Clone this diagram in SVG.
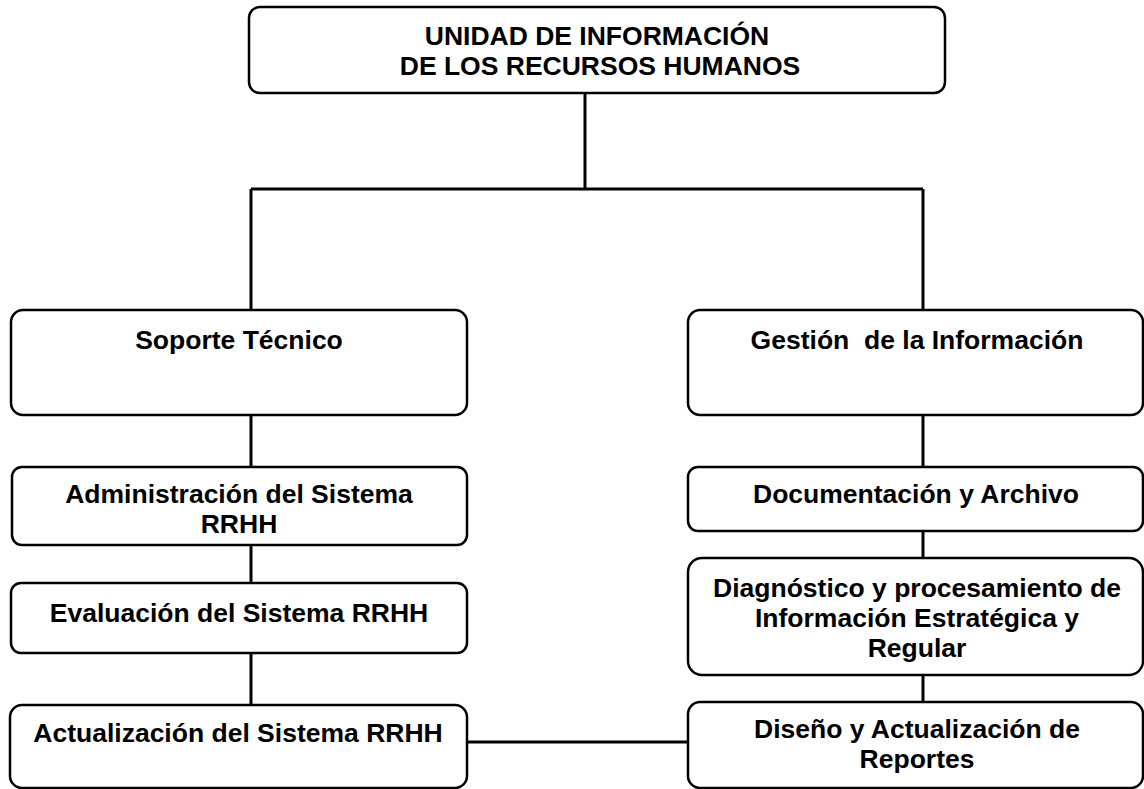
<svg xmlns="http://www.w3.org/2000/svg" width="1144" height="789" viewBox="0 0 1144 789">
<style>
.box{fill:#fff;stroke:#000;stroke-width:2.5}
.ln{fill:none;stroke:#000;stroke-width:3}
text{font-family:"Liberation Sans",Arial,sans-serif;font-weight:bold;font-size:26.5px;fill:#000;text-anchor:middle}
</style>
<rect width="1144" height="789" fill="#fff"/>
<g id="connectors">
<line class="ln" x1="585" y1="93" x2="585" y2="189"/>
<line class="ln" x1="251" y1="189" x2="923" y2="189"/>
<line class="ln" x1="251" y1="189" x2="251" y2="310"/>
<line class="ln" x1="923" y1="189" x2="923" y2="310"/>
<line class="ln" x1="251" y1="415" x2="251" y2="467"/>
<line class="ln" x1="251" y1="545" x2="251" y2="583"/>
<line class="ln" x1="251" y1="653" x2="251" y2="705"/>
<line class="ln" x1="923" y1="415" x2="923" y2="467"/>
<line class="ln" x1="923" y1="531" x2="923" y2="558"/>
<line class="ln" x1="923" y1="675" x2="923" y2="702"/>
<line class="ln" x1="467" y1="742" x2="688" y2="742"/>
</g>
<g id="n-top">
<rect class="box" x="249" y="7" width="696" height="86" rx="11"/>
<text x="597" y="45">UNIDAD DE INFORMACIÓN</text>
<text x="600" y="75">DE LOS RECURSOS HUMANOS</text>
</g>
<g id="n-soporte">
<rect class="box" x="11" y="310" width="456" height="105" rx="12"/>
<text x="239" y="349">Soporte Técnico</text>
</g>
<g id="n-admin">
<rect class="box" x="12" y="467" width="455" height="78" rx="10"/>
<text x="239" y="503">Administración del Sistema</text>
<text x="239" y="533">RRHH</text>
</g>
<g id="n-eval">
<rect class="box" x="11" y="583" width="456" height="70" rx="10"/>
<text x="239" y="622">Evaluación del Sistema RRHH</text>
</g>
<g id="n-actual">
<rect class="box" x="10" y="705" width="457" height="83" rx="12"/>
<text x="238" y="742">Actualización del Sistema RRHH</text>
</g>
<g id="n-gestion">
<rect class="box" x="688" y="310" width="455" height="105" rx="12"/>
<text x="917" y="349">Gestión&#160; de la Información</text>
</g>
<g id="n-doc">
<rect class="box" x="688" y="467" width="455" height="64" rx="10"/>
<text x="916" y="503">Documentación y Archivo</text>
</g>
<g id="n-diag">
<rect class="box" x="688" y="558" width="455" height="117" rx="14"/>
<text x="917" y="597">Diagnóstico y procesamiento de</text>
<text x="917" y="627">Información Estratégica y</text>
<text x="917" y="657">Regular</text>
</g>
<g id="n-diseno">
<rect class="box" x="688" y="702" width="455" height="86" rx="12"/>
<text x="917" y="738">Diseño y Actualización de</text>
<text x="917" y="768">Reportes</text>
</g>
</svg>
